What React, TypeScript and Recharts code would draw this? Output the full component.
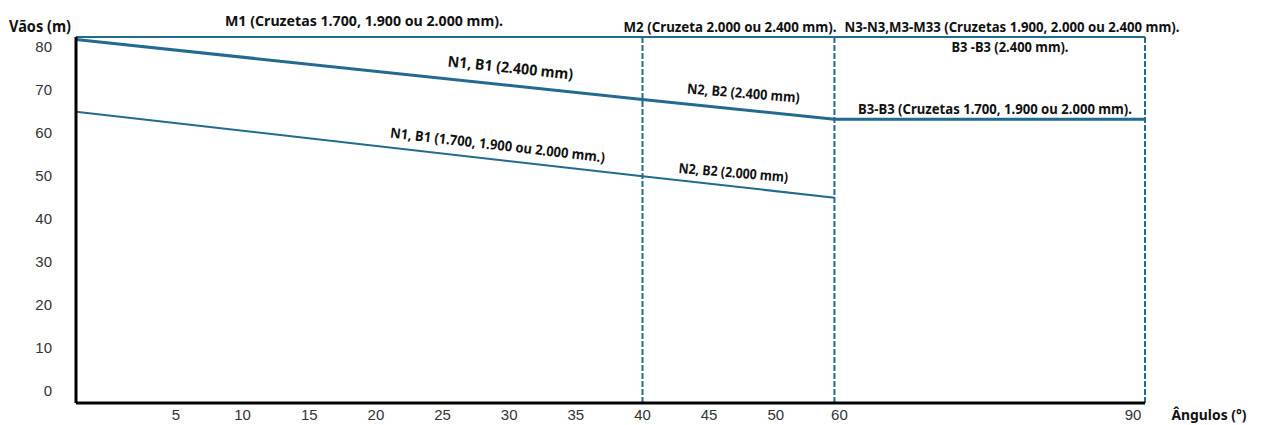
import React from 'react';
import { LineChart, Line, XAxis, YAxis, ReferenceLine } from 'recharts';

// Drawn (non-uniform) x axis of the diagram: where each angle label sits
const xTickValues = [5, 10, 15, 20, 25, 30, 35, 40, 45, 50, 54.4, 77.7];
const xTickLabels = ['5', '10', '15', '20', '25', '30', '35', '40', '45', '50', '60', '90'];
const yTickValues = [0, 10, 20, 30, 40, 50, 60, 70, 80];

// Breakpoints: angles 0°, 40°, 60°, 90° placed on the drawn axis
const breakX = [-2.5, 40, 54.4, 77.7];
const m1Values = [82.26, 82.26, 82.26, 82.26];
const n1b1_2400 = [81.66, 67.7, 63.1, 63.1];
const n1b1_std = [64.85, 49.8, 44.83, null];
const dashedAt = [40, 54.4, 77.7];

const data = breakX.map((x, i) => ({ x, m1: m1Values[i], thick: n1b1_2400[i], thin: n1b1_std[i] }));

const BLUE = '#236a8f';
const TICK_FONT = '"Liberation Sans", Arial, sans-serif';
const LABEL_FONT = '"Noto Sans", "DejaVu Sans", sans-serif';

const XTick = (props: any) => {
  const { x, y, payload } = props;
  const idx = xTickValues.indexOf(payload.value);
  const label = idx >= 0 ? xTickLabels[idx] : String(payload.value);
  const dx = label === '90' ? -12 : label === '60' ? 5 : 0;
  return (
    <text x={x + dx} y={y + 11} textAnchor="middle" dominantBaseline="central" fontFamily={TICK_FONT} fontSize={15} fill="#333">
      {label}
    </text>
  );
};

const YTick = (props: any) => {
  const { x, y, payload } = props;
  return (
    <text x={x - 24} y={y} textAnchor="end" dominantBaseline="central" fontFamily={TICK_FONT} fontSize={15} fill="#333">
      {payload.value}
    </text>
  );
};

type Ann = { text: string; x: number; y: number; w: number; size: number; weight: number; rot?: number };
const annotations: Ann[] = [
  { text: 'Vãos (m)', x: 40, y: 32, w: 62, size: 16, weight: 700 },
  { text: 'M1 (Cruzetas 1.700, 1.900 ou 2.000 mm).', x: 364, y: 26, w: 278, size: 15, weight: 700 },
  { text: 'M2 (Cruzeta  2.000 ou 2.400 mm).', x: 730, y: 31.5, w: 213, size: 15, weight: 700 },
  { text: 'N3-N3,M3-M33 (Cruzetas 1.900, 2.000 ou 2.400 mm).', x: 1012, y: 32, w: 335, size: 15, weight: 700 },
  { text: 'B3 -B3 (2.400 mm).', x: 1010, y: 51.5, w: 117, size: 14, weight: 700 },
  { text: 'B3-B3 (Cruzetas 1.700, 1.900 ou 2.000 mm).', x: 995, y: 114, w: 274, size: 14, weight: 700 },
  { text: 'N1, B1 (2.400 mm)', x: 510, y: 73, w: 126, size: 15, weight: 700, rot: 6 },
  { text: 'N2, B2 (2.400 mm)', x: 743, y: 98, w: 113, size: 14, weight: 700, rot: 4.6 },
  { text: 'N1, B1 (1.700, 1.900 ou 2.000 mm.)', x: 497, y: 150, w: 216, size: 14, weight: 700, rot: 6.6 },
  { text: 'N2, B2 (2.000 mm)', x: 733, y: 177.5, w: 110, size: 14, weight: 700, rot: 4.8 },
  { text: 'Ângulos (°)', x: 1209, y: 420, w: 75, size: 15, weight: 700 },
];

export default function App() {
  return (
    <div style={{ position: 'absolute', left: 0, top: 0, width: 1262, height: 425, background: '#fff' }}>
      <LineChart width={1262} height={425} data={data} margin={{ top: 37, right: 117, bottom: 0, left: 16 }}>
        <XAxis
          type="number"
          dataKey="x"
          domain={[-2.5, 77.7]}
          ticks={xTickValues}
          interval={0}
          height={22}
          tickLine={false}
          tickSize={0}
          tickMargin={0}
          axisLine={{ stroke: '#000', strokeWidth: 3 }}
          tick={<XTick />}
        />
        <YAxis
          type="number"
          domain={[-3, 82.26]}
          ticks={yTickValues}
          interval={0}
          width={60}
          tickLine={false}
          tickSize={0}
          tickMargin={0}
          axisLine={{ stroke: '#000', strokeWidth: 3 }}
          tick={<YTick />}
        />
        {dashedAt.map((v) => (
          <ReferenceLine key={v} x={v} stroke={BLUE} strokeWidth={2} strokeDasharray="6 2" />
        ))}
        <Line dataKey="m1" stroke={BLUE} strokeWidth={2.2} dot={false} isAnimationActive={false} />
        <Line dataKey="thick" stroke={BLUE} strokeWidth={3} dot={false} isAnimationActive={false} />
        <Line dataKey="thin" stroke={BLUE} strokeWidth={2} dot={false} isAnimationActive={false} />
      </LineChart>
      <svg width={1262} height={425} style={{ position: 'absolute', left: 0, top: 0, pointerEvents: 'none' }}>
        {annotations.map((a) => (
          <text
            key={a.text}
            x={a.x}
            y={a.y}
            textAnchor="middle"
            fontFamily={LABEL_FONT}
            fontSize={a.size}
            fontWeight={a.weight}
            fill="#111"
            textLength={a.w}
            lengthAdjust="spacingAndGlyphs"
            transform={a.rot ? `rotate(${a.rot} ${a.x} ${a.y})` : undefined}
          >
            {a.text}
          </text>
        ))}
      </svg>
    </div>
  );
}
